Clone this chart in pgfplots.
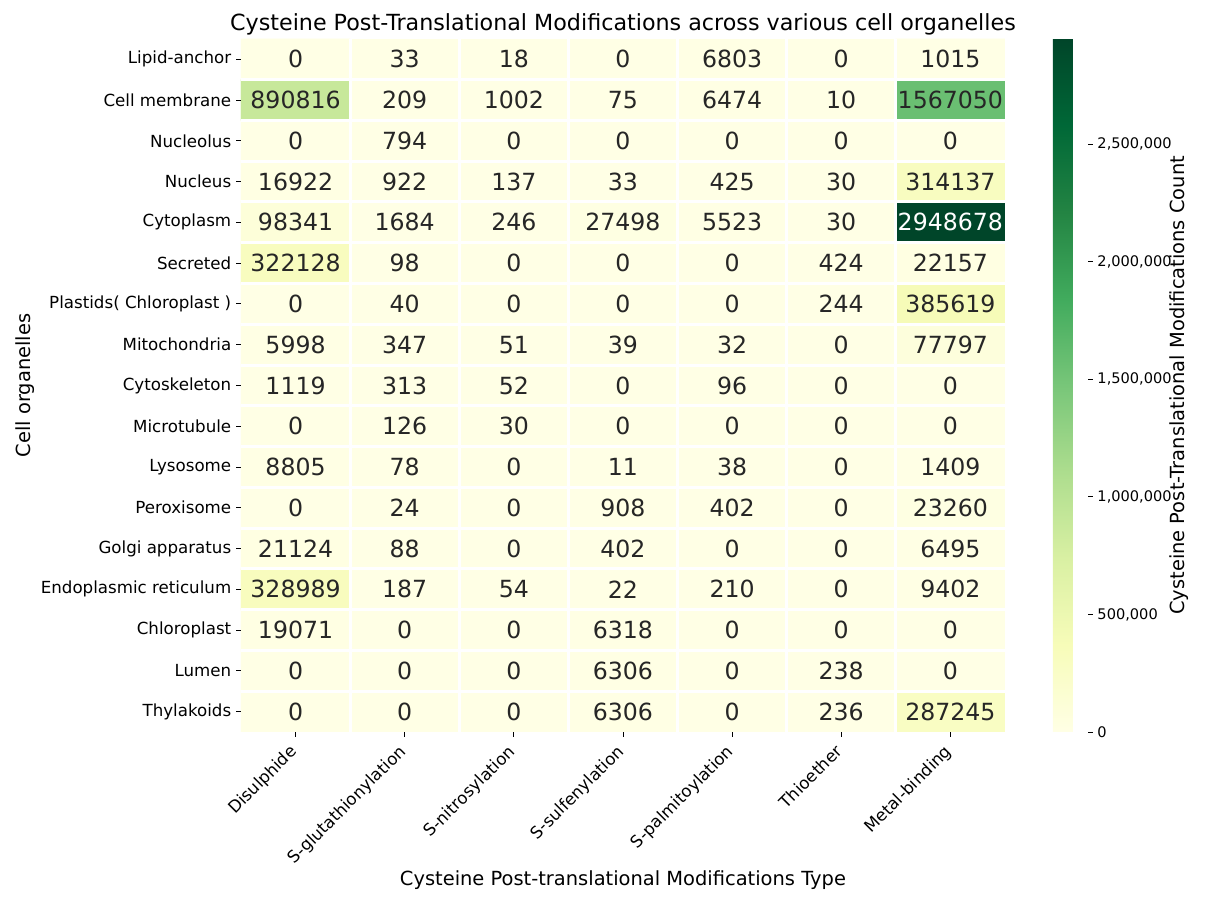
\documentclass[border=0pt]{standalone}
\usepackage{fontspec}
\setmainfont{DejaVu Sans}
\usepackage{pgfplots}
\usepackage{pgfplotstable}
\pgfplotsset{compat=1.18}
\pgfplotsset{/pgf/number format/assume math mode=true}
\definecolor{cellgray}{HTML}{262626}
\pgfplotsset{colormap={YlGn}{rgb255=(255,255,229) rgb255=(247,252,185) rgb255=(217,240,163) rgb255=(173,221,142) rgb255=(120,198,121) rgb255=(65,171,93) rgb255=(35,132,67) rgb255=(0,104,55) rgb255=(0,69,41)}}

% x: 0 Disulphide, 1 S-glutathionylation, 2 S-nitrosylation, 3 S-sulfenylation,
%    4 S-palmitoylation, 5 Thioether, 6 Metal-binding
% y: 16 Lipid-anchor ... 0 Thylakoids
\pgfplotstableread{
x y z
0 16 0
1 16 33
2 16 18
3 16 0
4 16 6803
5 16 0
6 16 1015
0 15 890816
1 15 209
2 15 1002
3 15 75
4 15 6474
5 15 10
6 15 1567050
0 14 0
1 14 794
2 14 0
3 14 0
4 14 0
5 14 0
6 14 0
0 13 16922
1 13 922
2 13 137
3 13 33
4 13 425
5 13 30
6 13 314137
0 12 98341
1 12 1684
2 12 246
3 12 27498
4 12 5523
5 12 30
6 12 2948678
0 11 322128
1 11 98
2 11 0
3 11 0
4 11 0
5 11 424
6 11 22157
0 10 0
1 10 40
2 10 0
3 10 0
4 10 0
5 10 244
6 10 385619
0 9 5998
1 9 347
2 9 51
3 9 39
4 9 32
5 9 0
6 9 77797
0 8 1119
1 8 313
2 8 52
3 8 0
4 8 96
5 8 0
6 8 0
0 7 0
1 7 126
2 7 30
3 7 0
4 7 0
5 7 0
6 7 0
0 6 8805
1 6 78
2 6 0
3 6 11
4 6 38
5 6 0
6 6 1409
0 5 0
1 5 24
2 5 0
3 5 908
4 5 402
5 5 0
6 5 23260
0 4 21124
1 4 88
2 4 0
3 4 402
4 4 0
5 4 0
6 4 6495
0 3 328989
1 3 187
2 3 54
3 3 22
4 3 210
5 3 0
6 3 9402
0 2 19071
1 2 0
2 2 0
3 2 6318
4 2 0
5 2 0
6 2 0
0 1 0
1 1 0
2 1 0
3 1 6306
4 1 0
5 1 238
6 1 0
0 0 0
1 0 0
2 0 0
3 0 6306
4 0 0
5 0 236
6 0 287245
}\datatable

\begin{document}
\begin{tikzpicture}
\begin{axis}[
  name=main,
  scale only axis,
  width=550pt, height=499pt,
  xmin=-0.5, xmax=6.5, ymin=-0.5, ymax=16.5,
  axis on top,
  axis line style={draw=none},
  tick pos=left,
  tick align=outside,
  major tick length=3.5pt,
  minor tick length=0pt,
  tick style={black, line width=0.6pt},
  xtick={0,...,6},
  xticklabels={Disulphide,S-glutathionylation,S-nitrosylation,S-sulfenylation,S-palmitoylation,Thioether,Metal-binding},
  ytick={0,...,16},
  yticklabels={Thylakoids,Lumen,Chloroplast,Endoplasmic reticulum,Golgi apparatus,Peroxisome,Lysosome,Microtubule\ ,Cytoskeleton,Mitochondria,Plastids( Chloroplast ),Secreted,Cytoplasm,Nucleus,Nucleolus,Cell membrane,Lipid-anchor},
  minor xtick={0.5,1.5,...,5.5},
  minor ytick={0.5,1.5,...,15.5},
  xminorgrids, yminorgrids,
  minor grid style={white, line width=2.2pt},
  tick label style={font=\fontsize{12}{14}\selectfont},
  xticklabel style={xshift=-5pt, rotate=45, anchor=north east},
  title={Cysteine Post-Translational Modifications across various cell organelles},
  title style={font=\fontsize{16}{19}\selectfont, yshift=-7pt},
  xlabel={Cysteine Post-translational Modifications Type},
  xlabel style={font=\fontsize{14}{16}\selectfont, at={(axis description cs:0.5,0)}, anchor=center, yshift=-106.5pt},
  ylabel={Cell organelles},
  ylabel style={font=\fontsize{14}{16}\selectfont, at={(axis description cs:0,0.5)}, anchor=center, yshift=155.5pt},
  colormap name=YlGn,
  point meta min=0, point meta max=2948678,
  colorbar,
  colorbar style={
    width=25pt,
    at={(parent axis.north east)}, anchor=north west, xshift=26.1pt,
    axis line style={draw=none},
    ytick pos=right, yticklabel pos=right,
    tick align=outside,
    major tick length=3.5pt,
    tick style={black, line width=0.6pt},
    ytick={0,500000,1000000,1500000,2000000,2500000},
    scaled y ticks=false,
    yticklabel={\fontsize{10.5}{12}\selectfont\pgfmathprintnumber[fixed,precision=0,1000 sep={,}]{\tick}},
    ylabel={Cysteine Post-Translational Modifications Count},
    ylabel style={font=\fontsize{14}{16}\selectfont, at={(axis description cs:1,0.5)}, anchor=center, yshift=-66pt},
  },
]
\addplot[matrix plot*, mesh/cols=7, point meta=explicit] table[x=x, y=y, meta=z] {\datatable};
\addplot[draw=none, mark=none, point meta=explicit symbolic,
  nodes near coords={\ifnum\pgfplotspointmeta>2000000\relax\color{white}\else\color{cellgray}\fi\pgfplotspointmeta},
  nodes near coords align=center,
  every node near coord/.append style={font=\fontsize{17}{20}\selectfont, inner sep=0pt}]
  table[x=x, y=y, meta=z] {\datatable};
\end{axis}
\pgfresetboundingbox
\path[use as bounding box] (main.south west) ++(-173.5pt,-126pt) rectangle ++(871.9pt,653pt);
\end{tikzpicture}
\end{document}
